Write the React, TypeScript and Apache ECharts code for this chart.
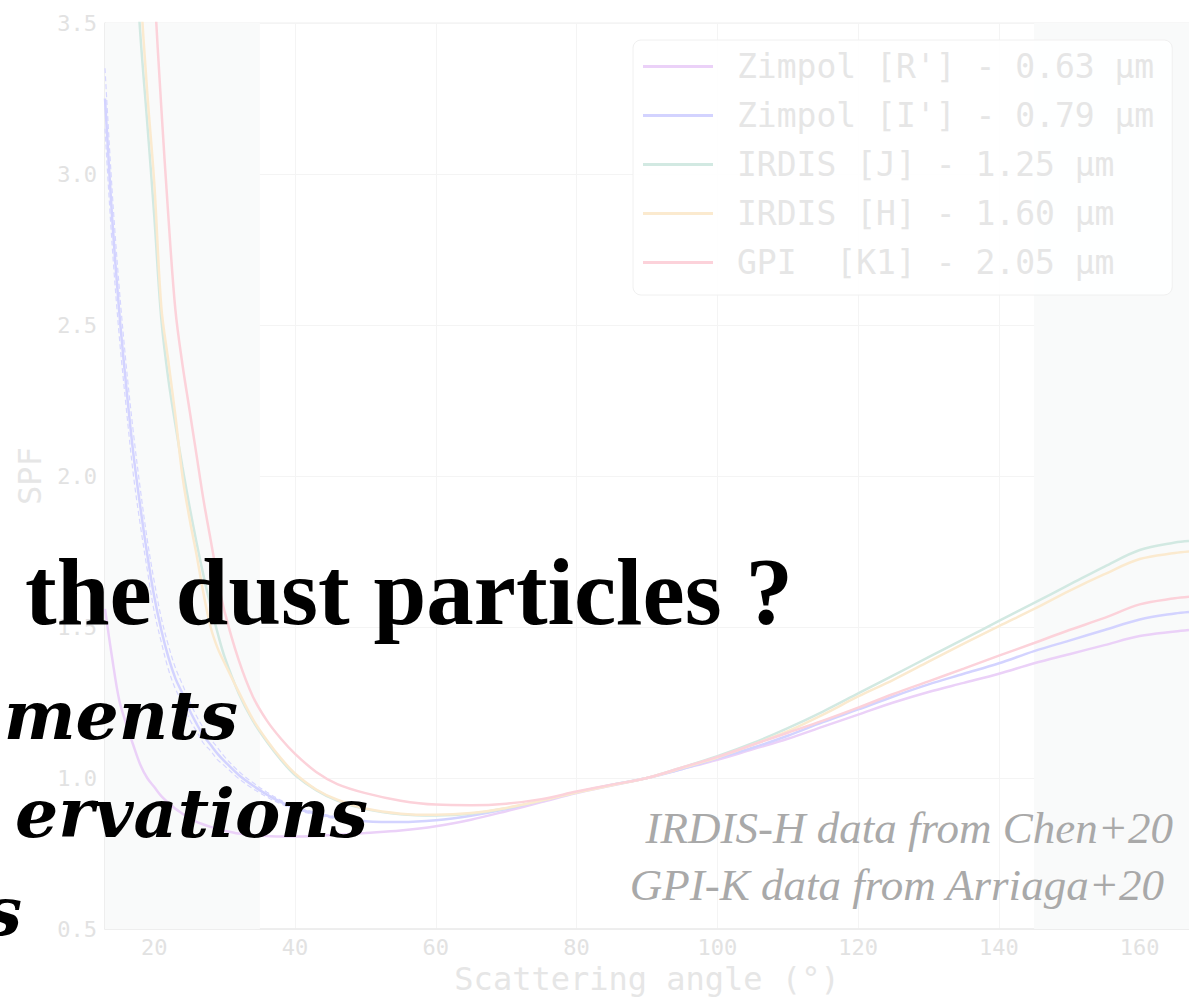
import React, { useEffect, useRef } from "react";
import * as echarts from "echarts";

// ---------- data ----------
const ANGLES = [13, 14, 15, 16, 17, 18, 19, 20, 21, 22, 23, 24, 25, 26, 27, 28, 29, 30, 32, 34, 36, 38, 40, 43, 46, 50, 55, 60, 65, 70, 75, 80, 85, 90, 95, 100, 105, 110, 115, 120, 125, 130, 135, 140, 145, 150, 155, 160, 165, 167];

const SPF_R = [1.56, 1.4, 1.26, 1.18, 1.11, 1.045, 1.0, 0.97, 0.94, 0.918, 0.898, 0.882, 0.867, 0.855, 0.846, 0.838, 0.831, 0.825, 0.816, 0.811, 0.808, 0.806, 0.806, 0.808, 0.812, 0.818, 0.826, 0.84, 0.862, 0.89, 0.92, 0.95, 0.975, 1.0, 1.03, 1.06, 1.095, 1.13, 1.17, 1.21, 1.25, 1.285, 1.315, 1.345, 1.38, 1.41, 1.44, 1.47, 1.485, 1.49];
const SPF_I = [3.25, 2.86, 2.55, 2.3, 2.08, 1.9, 1.74, 1.6, 1.49, 1.4, 1.33, 1.28, 1.225, 1.18, 1.14, 1.11, 1.08, 1.055, 1.01, 0.975, 0.945, 0.92, 0.9, 0.882, 0.868, 0.857, 0.854, 0.86, 0.875, 0.897, 0.925, 0.953, 0.978, 1.0, 1.03, 1.065, 1.1, 1.14, 1.185, 1.227, 1.27, 1.31, 1.345, 1.38, 1.42, 1.455, 1.49, 1.525, 1.545, 1.55];
const SPF_J = [null, null, null, 4.4, 3.85, 3.47, 3.17, 2.86, 2.52, 2.32, 2.17, 2.03, 1.9, 1.78, 1.67, 1.57, 1.48, 1.4, 1.28, 1.19, 1.12, 1.06, 1.01, 0.96, 0.925, 0.897, 0.88, 0.876, 0.882, 0.9, 0.925, 0.953, 0.977, 1.0, 1.035, 1.072, 1.115, 1.165, 1.22, 1.28, 1.34, 1.4, 1.46, 1.52, 1.58, 1.64, 1.7, 1.755, 1.78, 1.785];
const SPF_H = [null, null, null, 4.6, 4.05, 3.62, 3.27, 2.97, 2.56, 2.38, 2.2, 2.0, 1.86, 1.74, 1.61, 1.5, 1.43, 1.38, 1.285, 1.195, 1.125, 1.065, 1.015, 0.962, 0.928, 0.899, 0.882, 0.878, 0.884, 0.901, 0.925, 0.952, 0.976, 1.0, 1.033, 1.068, 1.11, 1.155, 1.21, 1.27, 1.325, 1.385, 1.445, 1.503, 1.56, 1.62, 1.675, 1.725, 1.745, 1.75];
const SPF_K = [null, null, null, null, null, 4.7, 4.1, 3.62, 3.22, 2.86, 2.55, 2.37, 2.22, 2.07, 1.92, 1.79, 1.66, 1.55, 1.39, 1.27, 1.19, 1.13, 1.08, 1.02, 0.98, 0.95, 0.925, 0.912, 0.91, 0.915, 0.93, 0.955, 0.978, 1.0, 1.035, 1.07, 1.11, 1.15, 1.19, 1.233, 1.278, 1.32, 1.362, 1.405, 1.447, 1.49, 1.53, 1.575, 1.595, 1.6];

// uncertainty envelope of Zimpol I' (angles 13..50)
const SPF_I_HI = [3.35, 2.95, 2.63, 2.37, 2.15, 1.96, 1.79, 1.65, 1.53, 1.44, 1.365, 1.31, 1.255, 1.205, 1.165, 1.13, 1.1, 1.07, 1.022, 0.985, 0.953, 0.926, 0.905, 0.886, 0.871, 0.859];
const SPF_I_LO = [3.15, 2.77, 2.47, 2.23, 2.01, 1.84, 1.69, 1.55, 1.45, 1.36, 1.295, 1.25, 1.195, 1.155, 1.115, 1.09, 1.06, 1.04, 0.998, 0.965, 0.937, 0.914, 0.895, 0.878, 0.865, 0.855];

const SERIES_NAMES = [
  "Zimpol [R'] - 0.63 µm",
  "Zimpol [I'] - 0.79 µm",
  "IRDIS [J] - 1.25 µm",
  "IRDIS [H] - 1.60 µm",
  "GPI  [K1] - 2.05 µm",
];
const SERIES_VALUES = [SPF_R, SPF_I, SPF_J, SPF_H, SPF_K];
const SERIES_COLORS = ["#ebd1f8", "#d3d3ff", "#d2e9e2", "#fbeacf", "#fcd2da"];

const X_RANGE = [13, 167];
const Y_RANGE = [0.5, 3.5];
const Y_STEP = 0.5;
const SHADED_RANGES = [
  [13, 35],
  [145, 167],
];

const X_NAME = "Scattering angle (°)";
const Y_NAME = "SPF";
const HEADING = "the dust particles ?";
const ITALIC_LINES = ["ments", "ervations", "s"];
const CREDITS = ["IRDIS-H data from Chen+20", "GPI-K data from Arriaga+20"];

const MONO = '"DejaVu Sans Mono", monospace';

function pairs(values: (number | null)[]) {
  const out: [number, number][] = [];
  values.forEach((v, i) => {
    if (v !== null && v !== undefined) out.push([ANGLES[i], v]);
  });
  return out;
}

export default function App() {
  const ref = useRef<HTMLDivElement>(null);

  useEffect(() => {
    document.body.style.margin = "0";
    if (!ref.current) return;
    const chart = echarts.init(ref.current, null, { renderer: "svg" });

    const mainSeries = SERIES_NAMES.map((name, i) => ({
      type: "line",
      name,
      data: pairs(SERIES_VALUES[i]),
      symbol: "none",
      showSymbol: false,
      smooth: 0.35,
      clip: true,
      z: 3,
      lineStyle: { width: 2.5, color: SERIES_COLORS[i] },
      itemStyle: { color: SERIES_COLORS[i] },
      ...(i === 0
        ? {
            markArea: {
              silent: true,
              itemStyle: { color: "#f9fafa" },
              data: SHADED_RANGES.map(([a, b]) => [{ xAxis: a }, { xAxis: b }]),
            },
          }
        : {}),
    }));

    const envelope = [SPF_I_HI, SPF_I_LO].map((vals, k) => ({
      type: "line",
      name: k === 0 ? "I_hi" : "I_lo",
      data: pairs(vals),
      symbol: "none",
      showSymbol: false,
      smooth: 0.35,
      clip: true,
      silent: true,
      z: 2,
      lineStyle: { width: 1.2, type: [5, 3], color: "#d6d6ff" },
    }));

    const serif = '"Liberation Serif", serif';
    const dejavuSerif = '"DejaVu Serif", serif';

    const graphic = [
      {
        type: "text",
        x: 25,
        y: 592,
        z: 100,
        style: {
          text: HEADING,
          font: `bold 95px ${serif}`,
          fill: "#000000",
          align: "left",
          verticalAlign: "middle",
          textAlign: "left",
          textVerticalAlign: "middle",
        },
      },
      ...ITALIC_LINES.map((t, i) => ({
        type: "text",
        x: [238, 368, 22][i],
        y: [715, 813, 911][i],
        z: 100,
        style: {
          text: t,
          font: `italic bold 68px ${dejavuSerif}`,
          fill: "#000000",
          align: "right",
          verticalAlign: "middle",
          textAlign: "right",
          textVerticalAlign: "middle",
        },
      })),
      ...CREDITS.map((t, i) => ({
        type: "text",
        x: [1173, 1164][i],
        y: [828, 885][i],
        z: 100,
        style: {
          text: t,
          font: `italic 45px ${serif}`,
          fill: "#a9a9a9",
          align: "right",
          verticalAlign: "middle",
          textAlign: "right",
          textVerticalAlign: "middle",
        },
      })),
    ];

    const option = {
      animation: false,
      backgroundColor: "#ffffff",
      grid: {
        left: 105,
        top: 23,
        right: -5,
        bottom: 75,
        show: true,
        borderColor: "#eeeeee",
        borderWidth: 1,
        backgroundColor: "transparent",
      },
      xAxis: {
        type: "value",
        min: X_RANGE[0],
        max: X_RANGE[1],
        splitNumber: 8,
        name: X_NAME,
        nameLocation: "middle",
        nameGap: 33,
        nameTextStyle: { fontFamily: MONO, fontSize: 32, color: "#e6e6e6" },
        axisLine: { show: true, lineStyle: { color: "#ebebeb", width: 1.5 } },
        axisTick: { show: false },
        axisLabel: {
          showMinLabel: false,
          showMaxLabel: false,
          fontFamily: MONO,
          fontSize: 22,
          color: "#e2e2e2",
          margin: 7,
        },
        splitLine: { show: true, lineStyle: { color: "#f4f4f4", width: 1 } },
      },
      yAxis: {
        type: "value",
        min: Y_RANGE[0],
        max: Y_RANGE[1],
        interval: Y_STEP,
        name: Y_NAME,
        nameLocation: "middle",
        nameGap: 56,
        nameTextStyle: { fontFamily: MONO, fontSize: 32, color: "#e6e6e6" },
        axisLine: { show: true, lineStyle: { color: "#ebebeb", width: 1.5 } },
        axisTick: { show: false },
        axisLabel: {
          fontFamily: MONO,
          fontSize: 22,
          color: "#e2e2e2",
          margin: 8,
          formatter: (v: number) => v.toFixed(1),
        },
        splitLine: { show: true, lineStyle: { color: "#f4f4f4", width: 1 } },
      },
      legend: {
        data: SERIES_NAMES,
        orient: "vertical",
        left: 633,
        top: 40,
        padding: [10, 18, 16, 10],
        itemGap: 16,
        itemWidth: 70,
        itemHeight: 3,
        icon: "rect",
        selectedMode: false,
        backgroundColor: "rgba(255,255,255,0.85)",
        borderColor: "#f0f0f0",
        borderWidth: 1,
        borderRadius: 8,
        textStyle: {
          fontFamily: MONO,
          fontSize: 33,
          color: "#e6e6e6",
          padding: [0, 0, 0, 19],
        },
      },
      series: [...envelope, ...mainSeries],
      graphic,
    };

    chart.setOption(option as any);
    return () => chart.dispose();
  }, []);

  return <div ref={ref} style={{ width: 1189, height: 1004 }} />;
}
